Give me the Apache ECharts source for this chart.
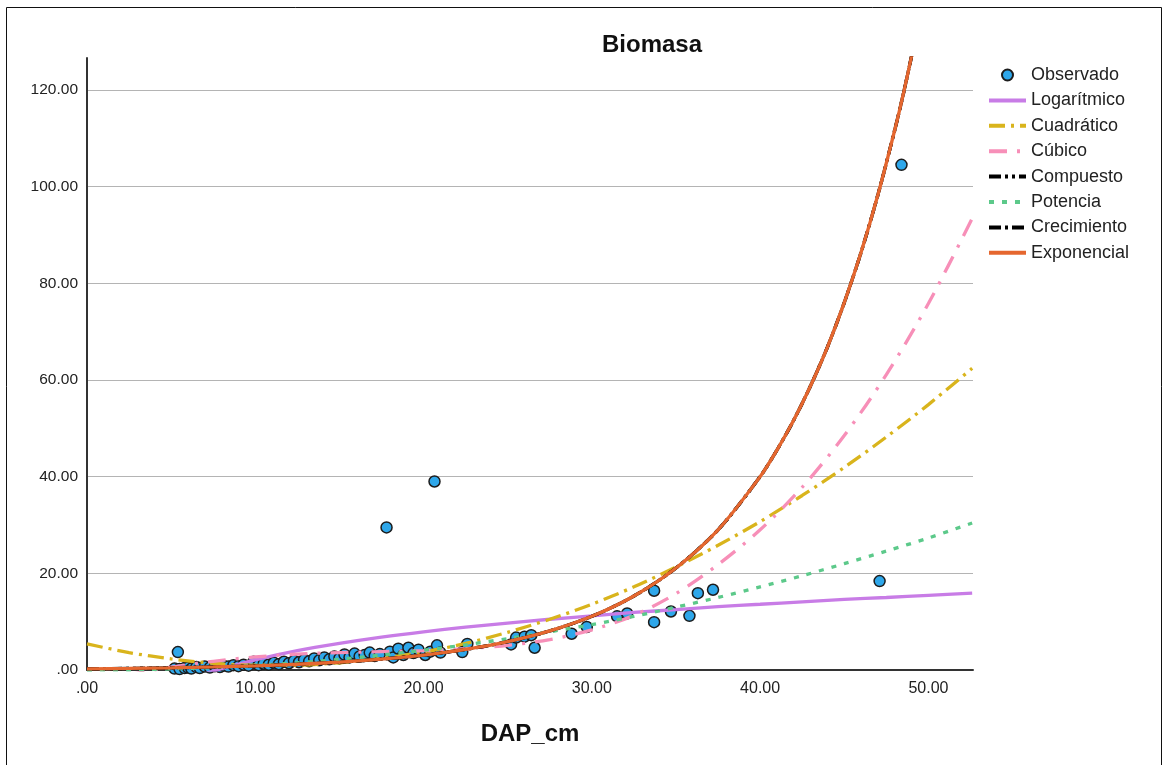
<!DOCTYPE html>
<html>
<head>
<meta charset="utf-8">
<script src="https://cdn.jsdelivr.net/npm/echarts@6/dist/echarts.min.js"></script>
<style>
  html, body { margin: 0; padding: 0; background: #fff; }
  #chart { width: 1166px; height: 765px; }
</style>
</head>
<body>
<div id="chart"></div>
<script>
// Observed trees: diameter (cm) and biomass
const dapObs = [5.4, 5.2, 5.5, 5.8, 6.0, 6.2, 6.5, 6.7, 7.0, 7.3, 7.6, 7.9, 8.1, 8.4, 8.7, 9.0, 9.3, 9.6, 9.9,
  10.2, 10.5, 10.8, 11.1, 11.4, 11.7, 12.0, 12.3, 12.6, 12.9, 13.2, 13.5, 13.8, 14.1, 14.4, 14.7, 15.0,
  15.3, 15.6, 15.9, 16.2, 16.5, 16.8, 17.1, 17.4, 17.8, 18.0, 18.2, 18.5, 18.8, 19.1, 19.4, 19.7, 20.1,
  20.4, 20.65, 20.8, 21.0, 22.3, 22.6, 25.2, 25.5, 26.0, 26.4, 26.6, 28.8, 29.7, 31.5, 32.1, 33.7, 33.7,
  34.7, 35.8, 36.3, 37.2, 47.1, 48.4];
const biomasaObs = [3.7, 0.3, 0.2, 0.4, 0.5, 0.3, 0.6, 0.4, 0.7, 0.5, 0.8, 0.6, 0.9, 0.7, 1.0, 0.8, 1.1, 0.9, 1.7,
  1.0, 1.3, 1.1, 1.5, 1.2, 1.7, 1.4, 1.9, 1.6, 2.1, 1.8, 2.4, 2.0, 2.6, 2.2, 2.8, 2.4,
  3.2, 2.6, 3.4, 2.8, 3.1, 3.6, 2.9, 3.3, 29.5, 3.8, 2.6, 4.4, 3.1, 4.6, 3.5, 4.2, 3.1,
  3.8, 39.0, 5.1, 3.6, 3.7, 5.4, 5.3, 6.7, 6.9, 7.2, 4.6, 7.5, 8.9, 11.1, 11.7, 16.4, 9.9,
  12.1, 11.2, 15.9, 16.6, 18.4, 104.5];

// Fitted model curves, sampled along the diameter axis
const curveDap = [0, 2.5, 5, 7.5, 10, 12.5, 15, 17.5, 20, 22.5, 25, 27.5, 30, 32.5, 35, 37.5, 40, 42.5, 45, 47.5, 50, 52.6];
const logaritmico = [null, -9.3, -3.6, -0.24, 2.1, 4.0, 5.5, 6.8, 7.9, 8.85, 9.7, 10.5, 11.2, 11.9, 12.5, 13.1, 13.6, 14.1, 14.6, 15.0, 15.45, 15.9];
const cuadratico = [5.4, 3.6, 2.3, 1.4, 1.0, 1.0, 1.5, 2.4, 3.7, 5.5, 7.8, 10.5, 13.6, 17.2, 21.3, 25.8, 30.7, 36.1, 41.9, 48.2, 54.9, 62.4];
const cubico = [-3.0, -1.0, 0.6, 1.8, 2.7, 3.3, 3.6, 3.8, 4.0, 4.4, 5.1, 6.3, 8.3, 11.3, 15.8, 21.8, 29.0, 37.8, 48.5, 61.1, 75.8, 93.4];
const potencia = [0, 0.05, 0.23, 0.53, 0.96, 1.5, 2.2, 3.1, 4.1, 5.2, 6.5, 7.9, 9.4, 11.1, 13.0, 15.0, 17.2, 19.5, 22.0, 24.6, 27.3, 30.4];

// Exponential-type fits (compound, growth and exponential coincide)
const expDap = [0, 2.5, 5, 7.5, 10, 12.5, 15, 17.5, 20, 22.5, 25, 27.5, 30, 32.5, 35, 37.5, 40, 41, 42, 43, 44, 45, 46, 47, 48, 48.5, 49, 49.5];
const exponencial = [0.24, 0.33, 0.45, 0.63, 0.86, 1.19, 1.63, 2.25, 3.1, 4.26, 5.87, 8.08, 11.1, 15.3, 21.1, 29.0, 40.0, 45.5, 51.7, 58.8, 66.8, 76.0, 86.4, 98.3, 111.7, 119.0, 127.0, 135.5];

// Axis tick settings
const xTicks = { min: 0, max: 52.65, interval: 10 };
const yTicks = { min: 0, max: 126.6, interval: 20 };

const legendNames = ['Observado', 'Logarítmico', 'Cuadrático', 'Cúbico', 'Compuesto', 'Potencia', 'Crecimiento', 'Exponencial'];

const pairs = (xs, ys) => xs.map((x, i) => [x, ys[i]]);
const fmt = v => (v === 0 ? '.00' : v.toFixed(2));
const FONT = "'Liberation Sans', Arial, sans-serif";

function fitLine(name, xs, ys, color, dash, z) {
  return {
    name: name,
    type: 'line',
    data: pairs(xs, ys),
    symbol: 'none',
    smooth: 0.3,
    clip: true,
    connectNulls: false,
    z: z,
    lineStyle: { color: color, width: 3.3, type: dash, cap: 'butt' },
    itemStyle: { color: color },
    emphasis: { disabled: true }
  };
}

const chart = echarts.init(document.getElementById('chart'), null, { renderer: 'canvas' });

chart.setOption({
  animation: false,
  backgroundColor: '#ffffff',
  title: {
    text: 'Biomasa',
    left: 652,
    top: 33,
    padding: 0,
    textAlign: 'center',
    textStyle: { fontFamily: FONT, fontSize: 24, fontWeight: 'bold', color: '#111' }
  },
  graphic: [{
    type: 'rect',
    shape: { x: 6.5, y: 7.5, width: 1155, height: 800 },
    style: { fill: 'none', stroke: '#111', lineWidth: 1 },
    silent: true,
    z: -10
  }],
  legend: {
    orient: 'vertical',
    left: 987,
    top: 66,
    padding: 0,
    itemWidth: 37,
    itemHeight: 11,
    itemGap: 7.4,
    itemStyle: { opacity: 0 },
    lineStyle: { width: 4 },
    textStyle: { fontFamily: FONT, fontSize: 18, color: '#222', lineHeight: 18 },
    selectedMode: false,
    data: legendNames.map(n => n === 'Observado' ? { name: n, itemStyle: { opacity: 1 } } : { name: n })
  },
  grid: { left: 87, right: 193, top: 58, bottom: 95, containLabel: false, outerBoundsMode: 'none' },
  xAxis: {
    type: 'value',
    min: xTicks.min, max: xTicks.max, interval: xTicks.interval,
    name: 'DAP_cm',
    nameLocation: 'middle',
    nameGap: 52,
    nameTextStyle: { fontFamily: FONT, fontSize: 24, fontWeight: 'bold', color: '#111' },
    axisLine: { show: true, onZero: false, lineStyle: { color: '#333', width: 2 } },
    axisTick: { show: false },
    splitLine: { show: false },
    axisLabel: {
      formatter: fmt, fontFamily: FONT, fontSize: 16, color: '#222', margin: 11,
      showMaxLabel: false, showMinLabel: true, hideOverlap: false
    }
  },
  yAxis: {
    type: 'value',
    min: yTicks.min, max: yTicks.max, interval: yTicks.interval,
    axisLine: { show: true, onZero: false, lineStyle: { color: '#333', width: 2 } },
    axisTick: { show: false },
    splitLine: { show: true, showMinLine: false, showMaxLine: false, lineStyle: { color: '#b4b4b4', width: 1 } },
    axisLabel: {
      formatter: fmt, fontFamily: FONT, fontSize: 15.5, color: '#222', margin: 9,
      showMaxLabel: false, hideOverlap: false
    }
  },
  series: [
    {
      name: 'Observado',
      type: 'scatter',
      data: pairs(dapObs, biomasaObs),
      symbol: 'circle',
      symbolSize: 11,
      z: 1,
      itemStyle: { color: '#2ea7ea', borderColor: '#1c1c1c', borderWidth: 1.5, opacity: 1 },
      emphasis: { disabled: true }
    },
    fitLine('Logarítmico', curveDap, logaritmico, '#c87ce6', 'solid', 2),
    fitLine('Cuadrático', curveDap, cuadratico, '#d9b41c', [16, 6, 3, 6], 3),
    fitLine('Cúbico', curveDap, cubico, '#f78fb8', [18, 10, 3, 10], 4),
    fitLine('Compuesto', expDap, exponencial, '#000000', [12, 4, 3, 4, 3, 4], 5),
    fitLine('Potencia', curveDap, potencia, '#5cc98a', [5, 8], 6),
    fitLine('Crecimiento', expDap, exponencial, '#000000', [12, 4, 3, 4], 7),
    fitLine('Exponencial', expDap, exponencial, '#e5672f', 'solid', 8)
  ]
});
</script>
</body>
</html>
